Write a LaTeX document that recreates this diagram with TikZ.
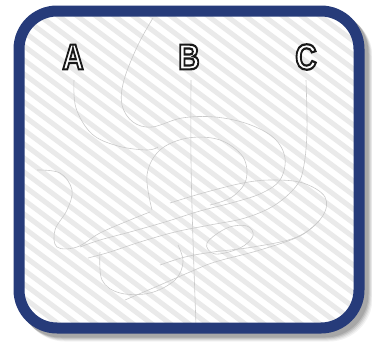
\documentclass[tikz,border=0pt]{standalone}
\usepackage{fontspec}
\setmainfont{Liberation Sans}
\definecolor{framebl}{HTML}{263B7A}
\definecolor{stripeg}{HTML}{EAEAEA}
\definecolor{tangle}{HTML}{CACACA}
\newcommand{\outl}[1]{\textcolor{white}{\special{pdf:literal direct 2 Tr 2.2 w 0.1 G}#1\special{pdf:literal direct 0 Tr 0.4 w 0 G}}}
\tikzset{
  stripe/.style={draw=stripeg,line width=5pt},
  tangleline/.style={draw=tangle,line width=0.6pt},
  letter/.style={inner sep=0pt,font=\fontsize{36}{36}\selectfont\bfseries,xscale=0.82},
  framebox/.style={draw=framebl,line width=11pt,rounded corners=38pt},
}
\begin{document}
\begin{tikzpicture}[x=1pt,y=-1pt]
\useasboundingbox (0,0) rectangle (372,343);
\fill[white] (0,0) rectangle (372,343);
% shadow
\foreach \o/\op in {8/0.05,7/0.06,6/0.08,5/0.1,4/0.1}
  \draw[black,opacity=\op,line width=11pt,rounded corners=38pt] (19+\o,11+\o) rectangle (359+\o,328+\o);
\fill[white,rounded corners=34pt] (19,11) rectangle (359,328);
% stripes
\begin{scope}
\clip[rounded corners=34pt] (19,11) rectangle (359,328);
\foreach \i in {-30,...,26}
  \draw[stripe] (0,\i*14) -- ++(460,345);
\end{scope}
% letters
\node[letter] (a) at (73,57) {\outl{A}};
\node[letter] (b) at (189,57) {\outl{B}};
\node[letter] (c) at (306,57) {\outl{C}};
% tangled lines
\draw[tangleline] plot[smooth,tension=0.6] coordinates {(74,80) (76,108) (92,134) (118,146) (147,150) (158,147)};
\draw[tangleline] plot[smooth,tension=0.6] coordinates {(153,18) (138,45) (124,80) (122,105) (133,122) (152,127) (182,118) (215,117) (248,124) (274,138) (285,158) (280,180) (262,193) (235,202) (200,211) (165,222) (130,232) (100,240) (80,247)};
\draw[tangleline] plot[smooth,tension=0.6] coordinates {(191,80) (191,160) (193,240) (196,325)};
\draw[tangleline] plot[smooth,tension=0.6] coordinates {(306,80) (307,130) (304,165) (297,185) (275,205) (245,218) (210,225) (175,232) (140,242) (110,252) (88,258)};
\draw[tangleline] plot[smooth,tension=0.6] coordinates {(152,210) (147,175) (160,150) (188,138) (220,140) (243,157) (246,180) (232,197) (210,205)};
\draw[tangleline] plot[smooth,tension=0.6] coordinates {(37,170) (60,173) (72,190) (67,210) (55,230) (57,247) (77,247) (100,233) (130,220) (150,212)};
\draw[tangleline] plot[smooth,tension=0.6] coordinates {(170,203) (203,193) (243,183) (272,180) (303,183) (325,197) (322,217) (297,237) (253,247) (213,252) (185,257) (160,265)};
\draw[tangleline] plot[smooth,tension=0.6] coordinates {(100,252) (102,280) (120,293) (150,293) (175,280) (183,262) (178,245)};
\draw[tangleline] plot[smooth cycle,tension=0.6] coordinates {(207,243) (227,228) (247,226) (253,236) (240,248) (215,254)};
\draw[tangleline] plot[smooth,tension=0.6] coordinates {(125,300) (160,285) (190,272) (215,262) (260,250) (300,236) (320,220)};
% frame
\draw[framebox] (19,11) rectangle (359,328);
\end{tikzpicture}
\end{document}
